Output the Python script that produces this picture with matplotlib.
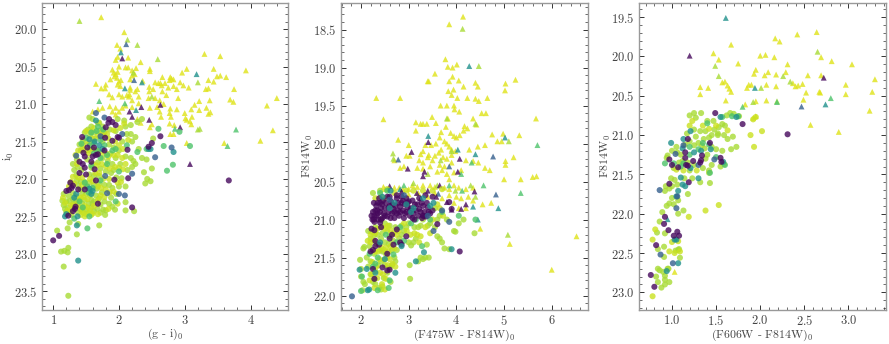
import matplotlib
matplotlib.use('Agg')
import matplotlib.pyplot as plt
import numpy as np
from matplotlib.ticker import MultipleLocator

plt.rcParams['font.family'] = ['cmr10', 'DejaVu Serif']
plt.rcParams['mathtext.fontset'] = 'cm'
plt.rcParams['axes.formatter.use_mathtext'] = True
plt.rcParams['axes.unicode_minus'] = False

# colour values on the viridis scale
shade_yellow = 0.95
shade_pale = 0.92
shade_lime = 0.87
shade_green = 0.72
shade_teal = 0.50
shade_blue = 0.30
shade_purple = 0.02

# left panel, (g - i), i
gi_tri_yellow = [(1.73,19.84),(2.08,20.04),(1.97,20.21),(2.02,20.26),(1.98,20.37),(1.95,20.41),(2.14,20.38),(2.33,20.44),
    (2.0,20.5),(2.1,20.51),(2.14,20.51),(2.2,20.55),(2.26,20.52),(2.47,20.53),(2.47,20.56),(1.90,20.54),(1.92,20.58),(1.95,20.6),
    (1.98,20.57),(1.93,20.63),(1.97,20.65),(1.87,20.67),(2.0,20.7),(2.03,20.68),(1.98,20.74),(2.02,20.76),(2.24,20.6),(2.2,20.62),
    (2.17,20.67),(1.65,20.73),(1.73,20.79),(1.8,20.74),(1.79,20.79),(2.17,20.78),(2.17,20.81),(2.16,20.87),(2.25,20.83),(2.28,20.8),
    (2.36,20.69),(2.55,20.71),(2.46,20.77),(2.46,20.83),(2.52,20.8),(2.6,20.72),(2.63,20.72),(2.66,20.64),(2.65,20.75),(2.7,20.72),
    (2.78,20.64),(2.8,20.66),(2.77,20.68),(2.83,20.67),(2.75,20.78),(2.66,20.83),(2.72,20.88),(2.93,20.71),(2.98,20.75),(2.83,20.76),
    (2.88,20.8),(3.03,20.53),(2.96,20.58),(3.06,20.78),(3.3,20.33),(3.54,20.36),(3.44,20.53),(3.49,20.63),(3.54,20.62),(3.63,20.64),
    (3.36,20.68),(3.44,20.7),(3.32,20.8),(3.36,20.79),(3.75,20.8),(3.69,20.94),(3.74,20.97),(3.93,20.55),(4.25,21.02),(4.4,20.92),
    (4.34,21.35),(4.15,21.49),(3.6,21.52),(3.03,21.52),(3.01,21.19),(3.1,21.07),(3.15,21.01),(3.22,20.96),(3.38,20.95),(3.33,21.05),
    (3.36,21.13),(3.39,21.11),(3.22,21.08),(3.11,21.17),(3.0,21.12),(2.88,21.07),(2.78,21.06),(2.77,21.12),(2.79,21.17),(2.9,20.92),
    (2.68,21.0),(2.58,21.04),(2.47,21.05),(2.62,21.1),(2.64,21.17),(2.45,20.92),(2.55,20.92),(2.62,20.95),(2.5,21.27),(2.47,21.31),
    (2.77,21.26),(2.84,21.28),(3.08,21.23),(3.03,21.21),(3.1,21.27),(2.83,21.4),(2.78,21.4),(1.85,20.87),(1.9,20.91),(2.0,20.87),
    (2.05,20.9),(2.12,20.88),(2.2,20.95),(2.15,20.9),(2.3,20.9),(2.3,20.99),(2.2,21.04),(2.1,21.02),(2.05,21.05),(1.95,21.05),
    (1.86,21.03),(1.75,21.05),(1.68,21.07),(1.6,21.1),(1.9,21.1),(2.0,21.1),(1.95,21.14),(2.28,21.2),(2.33,21.25)]
gi_tri_lime = [(1.40,19.89),(2.13,20.14),(2.28,20.21),(2.59,20.4),(2.22,20.58),(3.2,20.71),(2.5,20.9),(3.2,21.34),(3.23,21.33)]
gi_tri_green = [(3.78,21.34),(2.85,21.33),(3.65,21.56),(1.7,20.96),(2.09,20.99)]
gi_tri_teal = [(2.03,20.31),(3.18,20.6),(2.35,20.71),(2.09,20.79),(2.26,21.08)]
gi_tri_blue = [(2.11,20.2),(2.23,20.68)]
gi_tri_purple = [(2.05,20.39),(2.16,21.1),(2.2,21.17),(2.34,21.04),(2.46,21.21),(2.63,21.01),(2.93,21.31),(3.08,21.8)]

gi_dot_pale = [(1.15,22.25),(1.18,22.32),(1.22,22.42),(1.27,22.35),(1.3,22.4),(1.36,22.34),(1.4,22.38),(1.44,22.42),(1.48,22.36),
    (1.52,22.38),(1.56,22.42),(1.6,22.46),(1.5,22.47),(1.42,22.48),(1.36,22.24),(1.42,22.25),(1.46,22.24),(1.52,22.27),(1.56,22.17),
    (1.5,22.1),(1.44,22.08),(1.38,21.98),(1.44,21.98),(1.3,21.97),(1.27,22.04),(1.24,22.1),(1.32,22.06),(1.56,22.0),(1.6,22.03),
    (1.68,22.1),(1.73,22.12),(1.8,22.14),(1.86,22.18),(1.92,22.17),(2.03,22.04),(1.98,22.05),(1.85,22.0),(1.76,22.0),(1.7,21.92),
    (1.64,21.92),(1.6,21.8),(1.66,21.82),(1.74,21.8),(1.8,21.83),(1.86,21.86),(1.94,21.84),(2.0,21.85),(2.06,21.87),(2.1,21.8),
    (2.05,21.72),(1.98,21.68),(1.92,21.68),(1.84,21.7),(1.8,21.66),(1.72,21.65),(1.66,21.62),(1.6,21.6),(1.54,21.66),(1.5,21.62),
    (1.44,21.6),(1.38,21.62),(1.36,21.8),(1.34,21.68),(1.55,21.52),(1.6,21.46),(1.68,21.42),(1.76,21.42),(1.84,21.46),(1.94,21.5),
    (2.0,21.55),(2.06,21.6),(2.14,21.48),(1.5,21.36),(1.56,21.36),(1.62,21.32),(1.68,21.25),(1.74,21.36),(1.82,21.4),(1.92,21.35),
    (2.02,21.32),(2.08,21.26),(1.46,21.55),(1.72,22.22),(1.78,22.24),(1.68,22.28),(1.62,22.36),(1.84,22.4),(1.98,22.33),(1.3,22.35),
    (1.25,22.44),(1.48,22.5),(1.58,22.48),(1.68,22.47)]
gi_dot_lime = [(1.06,22.69),(1.12,22.97),(1.17,22.96),(1.22,22.98),(1.23,22.92),(1.16,23.17),(1.23,23.56),(1.22,22.66),(1.36,22.74),
    (1.25,22.58),(1.38,22.6),(1.7,22.62),(1.16,22.2),(1.14,22.29),(1.16,22.35),(1.2,22.3),(1.18,22.4),(1.22,22.38),(1.25,22.3),
    (1.24,22.23),(1.3,22.27),(1.35,22.3),(1.4,22.28),(1.44,22.33),(1.48,22.28),(1.38,22.45),(1.42,22.41),(1.46,22.45),(1.5,22.41),
    (1.54,22.45),(1.58,22.38),(1.62,22.43),(1.54,22.33),(1.58,22.28),(1.62,22.3),(1.65,22.22),(1.7,22.26),(1.74,22.18),(1.78,22.3),
    (1.8,22.42),(1.76,22.41),(1.85,22.33),(1.9,22.37),(1.94,22.41),(1.79,22.48),(1.72,22.45),(2.1,22.31),(2.1,22.42),(2.23,22.43),
    (2.0,22.1),(1.9,22.12),(1.85,22.08),(1.78,22.08),(1.7,22.06),(1.62,22.08),(1.55,22.05),(1.48,22.04),(1.42,22.04),(1.36,22.02),
    (1.5,22.2),(1.44,22.2),(1.3,22.19),(1.66,22.13),(1.96,22.2),(1.35,21.95),(1.32,21.88),(1.3,21.8),(1.36,21.74),(1.42,21.62),
    (1.4,21.54),(1.45,21.48),(1.48,21.38),(1.53,21.34),(1.58,21.3),(1.55,21.18),(1.6,21.2),(1.7,21.25),(1.75,21.3),(1.62,21.38),
    (1.7,21.36),(1.78,21.38),(1.86,21.34),(1.95,21.36),(1.98,21.2),(2.08,21.22),(2.1,21.3),(2.12,21.4),(2.05,21.5),(2.18,21.4),
    (2.2,21.5),(2.25,21.44),(2.28,21.24),(2.35,21.2),(2.18,21.28),(2.52,21.46),(2.3,21.6),(2.35,21.72),(2.42,21.74),(2.38,21.91),
    (2.4,22.06),(2.43,22.0),(2.48,22.03),(2.5,21.86),(2.25,21.8),(2.2,21.84),(2.18,21.72),(2.1,21.7),(2.0,21.62),(1.92,21.58),
    (1.87,21.66),(1.95,21.72),(2.02,21.8),(1.9,21.8),(1.83,21.76),(1.75,21.72),(1.68,21.78),(1.72,21.86),(1.8,21.9),(1.88,21.92),
    (1.96,21.98),(2.04,21.99),(2.1,22.1),(1.56,21.62),(1.52,21.74),(1.58,21.85),(1.55,21.94),(1.62,21.96),(1.7,21.96),(1.5,21.5),
    (1.56,21.42),(1.64,21.46),(1.75,21.5),(1.85,21.54),(2.13,21.88),(2.22,21.76),(1.2,22.44),(1.28,22.48),(1.32,22.33),(1.42,22.14),
    (1.56,22.22),(1.6,22.33),(1.67,22.4),(1.72,22.34),(1.88,22.25),(1.92,21.88),(1.37,21.84),(1.43,21.88),(1.38,22.09)]
gi_dot_green = [(1.52,22.66),(2.73,21.89),(2.82,21.81),(2.68,21.56),(2.28,21.64),(3.08,21.56),(2.92,21.37),(2.6,21.33),(2.42,21.6),
    (1.55,22.5),(1.62,21.52),(1.58,21.82),(1.9,21.62),(1.72,22.02),(1.5,21.45),(2.12,21.55),(1.45,22.38),(1.52,22.1),(1.68,21.3),
    (1.43,21.53),(1.82,21.68),(2.0,21.9),(1.95,22.3),(1.32,22.53),(1.58,21.38),(1.66,21.36),(1.72,21.48),(1.78,21.55),(1.68,21.62),
    (1.62,21.66),(1.72,21.72),(1.82,21.8),(1.6,22.12),(1.54,22.18),(1.48,22.05),(1.4,22.3),(1.76,21.34),(1.56,21.55),(1.95,21.6)]
gi_dot_teal = [(1.38,23.09),(1.36,22.62),(1.37,22.5),(1.18,22.5),(1.2,22.47),(1.65,21.22),(1.55,21.47),(1.63,21.5),(1.7,21.55),
    (1.75,21.6),(2.83,21.64),(2.48,21.6),(2.45,21.6),(1.35,22.2),(1.32,22.25),(1.55,22.13),(1.6,22.16),(1.58,22.2)]
gi_dot_blue = [(1.35,21.69),(1.78,21.18),(1.65,21.12),(1.82,22.19),(2.0,22.2),(2.09,22.22),(2.2,21.93),(2.8,21.58),(2.55,21.71),
    (2.05,21.4),(1.79,21.96),(1.72,21.43)]
gi_dot_purple = [(1.0,22.82),(1.09,22.76),(1.26,22.05),(1.24,22.15),(1.2,22.16),(1.28,22.12),(1.3,22.09),(1.38,22.14),(1.48,22.14),
    (1.34,22.37),(1.33,22.4),(1.3,22.43),(1.23,22.49),(1.68,22.33),(2.2,22.38),(1.46,21.65),(1.48,21.7),(1.4,21.77),(1.45,21.8),
    (1.48,21.85),(1.5,21.94),(1.4,21.92),(1.52,21.58),(1.62,21.58),(1.44,21.44),(1.58,21.77),(1.6,21.7),(1.65,21.68),(1.68,21.67),
    (1.63,21.87),(1.65,22.02),(1.79,21.45),(1.85,21.2),(1.84,21.25),(1.9,21.24),(1.95,21.28),(1.8,21.31),(1.9,21.49),(2.0,21.45),
    (1.98,21.44),(1.78,21.62),(1.93,22.01),(2.14,21.99),(2.13,21.61),(2.45,21.57),(2.5,21.52),(2.63,21.43),(3.67,22.02)]

# middle panel, (F475W - F814W), F814W
f475_tri_yellow = [(4.14,18.33),(3.85,18.43),(3.77,18.89),(3.82,18.99),(3.92,19.0),(4.01,18.96),(2.32,19.4),(2.82,19.4),(3.55,19.08),
    (3.4,19.18),(3.42,19.18),(3.92,19.12),(3.85,19.18),(4.05,19.17),(4.15,19.25),(3.94,19.29),(3.83,19.31),(3.9,19.36),(4.02,19.4),
    (4.23,19.4),(4.4,19.41),(4.47,19.44),(4.65,19.4),(4.4,19.2),(4.45,19.25),(5.03,19.21),(5.02,19.3),(5.24,19.16),(2.47,19.68),
    (3.67,19.5),(3.8,19.5),(3.95,19.5),(3.96,19.55),(4.06,19.58),(3.82,19.67),(3.49,19.65),(4.35,19.67),(4.53,19.6),(4.62,19.6),
    (5.67,19.67),(3.15,19.72),(3.25,19.74),(3.3,19.74),(3.38,19.74),(3.57,19.73),(3.78,19.78),(4.17,19.77),(4.23,19.8),(4.42,19.75),
    (3.15,19.83),(3.68,19.85),(3.65,19.92),(3.88,19.86),(3.95,19.9),(4.0,19.92),(4.07,19.89),(4.15,19.83),(4.75,19.88),(4.98,19.87),
    (4.6,20.02),(4.86,19.97),(4.95,19.97),(5.32,19.89),(2.78,19.95),(3.0,20.02),(3.35,20.02),(3.47,20.02),(3.57,20.0),(3.75,19.97),
    (3.8,20.0),(3.85,20.04),(3.9,20.08),(3.68,20.08),(3.3,20.1),(3.42,20.15),(3.25,20.14),(4.27,20.08),(4.45,20.04),(5.2,20.18),
    (3.55,20.16),(3.63,20.12),(3.72,20.18),(3.8,20.2),(3.9,20.15),(3.98,20.1),(3.22,20.22),(3.3,20.25),(3.4,20.18),(3.5,20.22),
    (3.65,20.28),(3.75,20.3),(3.9,20.25),(2.7,20.22),(2.82,20.32),(2.95,20.16),(3.02,20.16),(2.9,20.3),(3.18,20.32),(3.3,20.33),
    (3.45,20.3),(3.6,20.37),(3.7,20.35),(3.8,20.4),(3.85,20.47),(3.95,20.38),(4.1,20.35),(4.2,20.22),(4.35,20.23),(4.46,20.25),
    (4.6,20.32),(4.7,20.35),(5.03,20.23),(5.03,20.28),(5.0,20.47),(5.35,20.47),(5.6,20.44),(5.68,20.43),(2.47,20.57),(2.5,20.6),
    (2.7,20.58),(2.8,20.58),(2.88,20.6),(3.0,20.6),(3.08,20.55),(3.18,20.57),(3.3,20.55),(3.45,20.55),(3.55,20.57),(3.75,20.58),
    (3.85,20.6),(3.95,20.55),(4.05,20.58),(4.2,20.6),(4.35,20.58),(4.25,20.7),(4.1,20.72),(4.0,20.7),(3.95,20.78),(4.05,20.85),
    (4.2,20.85),(4.35,20.75),(3.85,20.68),(3.7,20.72),(3.55,20.65),(3.4,20.7),(3.2,20.65),(3.0,20.67),(4.55,20.8),(4.73,20.78),
    (4.5,21.12),(6.52,21.22),(6.0,21.66),(5.12,21.32)]
f475_tri_lime = [(4.13,18.49),(4.47,18.98),(3.8,19.67),(4.4,19.74),(5.1,19.97),(2.67,20.13),(3.9,20.1),(3.67,20.22),(5.08,21.2),
    (3.4,20.4),(3.1,20.52),(3.6,20.55),(4.3,20.55),(3.98,20.62),(4.4,20.7),(2.68,20.2)]
f475_tri_green = [(5.7,20.02),(5.35,20.65),(4.57,20.55),(2.9,20.55),(4.12,20.62),(3.85,20.55),(4.32,20.25),(4.1,20.4)]
f475_tri_teal = [(4.27,18.98),(3.41,19.9),(5.02,19.92),(4.03,20.08),(4.4,20.14),(4.88,20.85),(4.45,21.0),(4.35,20.83),(2.82,20.6)]
f475_tri_blue = [(4.77,20.17),(2.78,20.21),(3.85,20.3),(4.83,20.67),(3.62,20.66)]
f475_tri_purple = [(3.06,20.11),(3.41,19.98),(4.07,20.2),(2.98,20.33),(4.03,20.37),(3.3,20.43),(3.33,20.37),(2.6,20.56),(2.85,20.63),
    (3.17,20.65),(3.25,20.72),(3.58,20.7),(3.65,20.55),(3.4,20.62),(4.38,20.63),(3.8,20.77),(4.2,20.8),(4.1,20.86),(3.9,20.87)]

f475_dot_pale = [(2.14,21.28),(2.2,21.3),(2.26,21.27),(2.3,21.42),(2.36,21.42),(2.42,21.36),(2.48,21.4),(2.52,21.37),(2.58,21.42),
    (2.62,21.35),(2.7,21.38),(2.48,21.53),(2.38,21.52),(2.32,21.62),(2.4,21.7),(2.46,21.72),(2.52,21.78),(2.34,21.77),(2.22,21.72),
    (2.18,21.8),(2.28,21.9),(2.44,21.85),(2.5,21.92),(2.56,21.6),(2.6,21.52),(2.66,21.58),(2.72,21.62),(2.24,21.56),(2.44,21.1),
    (2.5,21.12),(2.56,21.08),(2.62,21.14),(2.68,21.18),(2.74,21.2),(2.78,21.15),(2.9,21.05),(2.96,21.15),(3.04,21.2),(3.12,21.18),
    (3.18,21.2),(3.22,21.3),(3.25,21.22),(2.35,21.12),(2.3,21.18),(2.2,21.2),(2.55,20.6),(2.7,20.65),(2.95,20.62),(3.1,20.62),
    (3.3,20.62),(3.5,20.62),(3.7,20.6),(2.42,20.7),(2.3,20.72),(3.6,20.8),(3.65,20.85),(3.72,20.95),(3.5,21.0),(3.35,21.1),(3.45,21.18)]
f475_dot_lime = [(1.98,21.53),(2.05,21.38),(2.07,21.36),(2.0,21.65),(2.0,21.75),(2.05,21.82),(2.08,21.85),(2.03,21.93),(2.2,21.72),
    (2.25,21.82),(2.3,21.85),(2.38,21.9),(2.42,21.92),(2.45,21.88),(2.3,21.68),(2.36,21.6),(2.42,21.55),(2.5,21.6),(2.55,21.7),
    (2.6,21.63),(2.62,21.82),(2.4,21.4),(2.33,21.32),(2.28,21.2),(2.22,21.16),(2.15,21.15),(2.2,21.25),(2.18,21.35),(2.28,21.45),
    (2.42,21.25),(2.45,21.18),(2.5,21.3),(2.55,21.15),(2.6,21.22),(2.65,21.4),(2.7,21.5),(2.72,21.55),(2.75,21.4),(2.8,21.25),
    (2.85,21.2),(2.9,21.15),(2.95,21.1),(3.0,21.3),(3.05,21.34),(3.1,21.3),(3.15,21.25),(3.12,21.1),(3.2,21.1),(3.25,21.08),
    (3.3,21.52),(3.35,21.5),(3.42,21.5),(3.38,21.33),(3.25,21.5),(3.02,21.6),(3.03,21.78),(3.2,21.55),(3.55,21.1),(3.6,21.0),
    (3.55,20.85),(3.6,21.22),(3.65,21.25),(3.7,21.3),(3.75,21.38),(3.85,21.39),(3.95,21.15),(3.98,21.16),(3.65,20.95),(3.8,21.0),
    (4.15,21.0),(4.05,21.05),(4.38,21.18),(3.3,21.0),(3.4,21.08),(3.45,21.05),(2.5,21.05),(2.6,21.08),(2.72,21.1),(2.85,21.08),
    (3.0,21.05),(2.45,21.42),(2.55,21.5),(2.65,21.6),(2.35,21.2),(2.3,21.1),(2.42,21.0),(2.25,20.65),(2.4,20.62),(2.5,20.72),
    (2.2,21.55),(2.12,21.5),(2.15,21.62),(2.28,21.78),(2.48,21.77),(2.52,21.45),(2.58,21.32),(2.68,21.28)]
f475_dot_green = [(2.02,21.75),(2.25,21.62),(2.3,21.58),(2.58,21.9),(2.6,21.8),(2.68,21.46),(2.75,21.3),(2.82,21.1),(3.15,21.0),
    (3.28,21.35),(2.9,21.28),(3.05,21.05),(2.4,20.65),(2.55,20.62),(2.52,21.2),(2.35,21.5),(4.4,21.0),(4.05,20.95),(3.7,20.9),
    (2.0,21.94),(2.35,21.93),(2.18,21.45),(3.45,21.0)]
f475_dot_teal = [(1.97,21.66),(2.12,21.65),(2.14,21.93),(2.17,21.92),(2.3,21.7),(2.72,21.7),(3.15,21.55),(3.32,21.43),(3.9,21.39),
    (2.5,21.52),(2.85,21.35),(2.45,20.7),(2.7,20.78),(2.6,20.85),(2.95,20.8),(3.1,20.85),(3.3,20.72),(3.52,20.78),(2.62,20.62),
    (2.4,21.3),(3.05,20.9),(3.45,20.82)]
f475_dot_blue = [(1.81,22.01),(3.52,21.15),(3.85,21.03),(3.7,20.88),(2.9,20.68),(2.6,20.74),(3.4,20.95)]
f475_dot_purple = [(2.25,20.9),(2.22,20.95),(2.24,21.0),(2.28,21.03),(2.3,20.88),(2.32,20.82),(2.35,20.78),(2.38,20.72),(2.33,20.95),
    (2.36,21.0),(2.4,20.9),(2.42,20.85),(2.4,21.04),(2.45,20.98),(2.48,20.92),(2.5,20.85),(2.52,20.78),(2.46,20.75),(2.55,20.96),
    (2.58,20.9),(2.6,20.82),(2.63,20.76),(2.65,20.92),(2.68,20.86),(2.7,20.98),(2.72,20.82),(2.75,20.72),(2.78,20.88),(2.8,20.95),
    (2.82,20.83),(2.85,20.7),(2.88,20.88),(2.9,20.98),(2.92,20.8),(2.95,20.9),(2.98,20.84),(3.0,20.76),(3.02,20.95),(3.05,20.85),
    (3.08,20.75),(3.1,20.92),(3.12,21.0),(3.15,20.88),(3.18,20.8),(3.2,20.95),(3.22,20.72),(3.25,20.9),(3.28,20.98),(3.3,20.82),
    (3.33,20.9),(3.36,20.96),(3.38,20.78),(3.42,20.9),(3.45,20.92),(3.5,20.88),(2.85,20.78),(2.55,20.7),(2.75,20.92),(3.35,20.68),
    (2.22,21.12),(2.28,21.14),(2.3,21.28),(2.25,21.4),(2.2,21.42),(2.3,21.35),(2.38,21.33),(2.42,21.1),(2.6,21.25),(2.65,21.2),
    (2.55,21.45),(2.85,21.33),(2.82,21.3),(2.68,21.33),(2.75,21.13),(2.95,21.22),(2.25,21.65),(2.28,21.78),(2.55,21.67),(2.6,21.66),
    (2.45,21.63),(4.07,21.42),(3.6,21.06),(3.3,20.95),(3.9,20.86),(3.5,20.7),(3.85,20.77),(2.28,20.95),(2.34,20.88),(2.44,20.8),
    (2.5,20.95),(2.58,20.84),(2.62,20.98),(2.66,20.8),(2.7,20.9),(2.78,20.78),(2.82,20.9),(2.88,20.75),(2.92,20.92),(2.98,20.78),
    (3.03,20.88),(3.08,20.98),(3.13,20.8),(3.22,20.86),(3.27,20.78),(3.32,20.95),(3.4,20.84),(2.27,21.0),(2.35,20.92),(2.42,21.0),
    (2.27,20.78),(2.4,20.78),(2.6,20.7),(2.75,20.68),(2.95,20.72)]

# right panel, (F606W - F814W), F814W
f606_tri_yellow = [(2.17,19.77),(2.22,19.81),(2.42,19.72),(2.64,19.69),(1.67,19.85),(1.47,19.96),(2.0,19.99),(2.06,19.98),(2.16,20.01),
    (1.53,20.04),(1.75,20.09),(2.31,20.1),(2.69,20.01),(2.81,20.06),(3.04,20.1),(1.95,20.17),(1.93,20.22),(2.09,20.2),(2.05,20.24),
    (2.18,20.23),(2.29,20.2),(2.54,20.24),(2.69,20.24),(3.3,20.29),(1.57,20.33),(1.6,20.32),(1.32,20.39),(1.41,20.4),(1.63,20.37),
    (1.65,20.41),(1.67,20.45),(1.32,20.48),(1.85,20.4),(1.87,20.36),(1.9,20.36),(2.07,20.36),(2.18,20.38),(2.37,20.34),(2.4,20.38),
    (2.43,20.37),(2.48,20.35),(2.97,20.36),(2.52,20.46),(2.67,20.45),(2.68,20.46),(3.27,20.45),(2.97,20.48),(1.61,20.56),(1.95,20.57),
    (2.07,20.56),(2.49,20.55),(3.24,20.69),(1.83,20.61),(1.92,20.78),(1.95,20.76),(2.57,20.87),(2.89,20.96),(1.03,22.74)]
f606_tri_lime = [(1.49,20.12),(2.65,19.94),(1.92,20.58),(2.19,20.57),(2.26,20.25),(2.01,20.4),(1.53,20.25),(2.34,20.32)]
f606_tri_green = [(1.8,20.64),(2.8,20.53),(2.19,20.58)]
f606_tri_teal = [(1.61,19.51),(1.94,20.4),(2.74,20.61),(0.95,22.07)]
f606_tri_blue = [(2.46,20.63)]
f606_tri_purple = [(1.2,19.99),(2.72,20.27)]

f606_dot_pale = [(0.78,23.05),(0.78,22.33),(0.81,22.2),(1.03,22.5),(0.97,22.48),(1.0,22.36),(1.07,22.35),(1.09,22.48),(1.19,22.04),
    (1.53,21.89),(1.38,21.96),(1.93,21.15),(1.89,21.0),(2.02,20.95),(1.95,20.77),(1.92,20.8),(1.2,20.88),(1.23,20.82),(1.35,20.88),
    (1.42,20.92),(1.5,20.88),(1.63,20.94),(1.05,21.44),(1.13,21.45),(1.28,21.45)]
f606_dot_lime = [(1.2,20.75),(1.25,20.72),(1.33,20.72),(1.27,20.78),(1.25,20.93),(1.17,20.98),(1.27,21.02),
    (1.4,20.82),(1.47,20.82),(1.32,20.95),(1.38,20.95),(1.48,20.93),(1.53,20.9),
    (1.57,20.86),(1.6,20.88),(1.62,20.75),(1.66,20.72),(1.7,20.73),(1.76,20.76),(1.69,21.02),(1.63,21.05),(1.59,21.0),
    (1.52,21.0),(1.45,21.0),(1.42,21.03),(1.36,21.05),(1.3,21.1),(1.34,21.13),(1.25,21.13),(1.2,21.08),(1.15,21.12),(1.05,21.15),
    (1.06,21.22),(1.1,21.25),(1.0,21.2),(0.95,21.26),(0.94,21.29),(1.45,21.15),(1.5,21.18),(1.57,21.2),(1.67,21.18),(1.73,21.15),
    (1.4,21.25),(1.38,21.3),(1.45,21.38),(1.55,21.4),(1.59,21.37),(1.42,21.45),(1.42,21.48),(1.35,21.42),(1.25,21.38),(1.2,21.45),
    (1.02,21.42),(1.08,21.35),(0.99,21.55),(1.03,21.57),(1.14,21.55),(1.23,21.55),(1.32,21.6),
    (1.43,21.61),(0.93,21.65),(0.97,21.68),(0.92,21.71),(1.0,21.65),(1.06,21.63),(0.97,21.87),(1.02,21.88),(1.0,21.8),(1.07,21.83),
    (1.18,21.75),(1.13,21.96),(0.89,21.98),(0.94,21.9),(1.07,22.0),(0.86,22.1),(0.92,22.25),
    (0.83,22.24),(0.84,22.45),(0.91,22.42),(0.91,22.55),(1.04,22.47),
    (1.07,22.46),(1.08,22.45),(1.09,22.56),(0.84,22.7),(0.86,22.72),(0.9,22.74),(0.95,22.7),(0.96,22.7),(0.92,22.79),
    (0.92,22.84),(0.82,22.8),(0.84,22.87),(0.88,22.94),(0.92,22.9),(0.97,22.87),(1.52,20.98),(1.37,21.17),(1.18,21.35),(1.12,21.33)]
f606_dot_green = [(1.42,21.12),(1.57,20.77),(1.68,20.76),(1.75,20.76),(1.43,21.48),(1.3,21.18),(1.35,21.1),(1.6,21.38),(1.2,21.25),
    (1.1,21.4),(1.02,21.36),(0.92,21.36),(1.13,21.36),(1.4,20.85),(1.5,21.28),(1.2,21.15)]
f606_dot_teal = [(0.99,21.1),(1.12,21.17),(1.21,20.95),(1.13,21.05),(1.25,21.22),(1.33,21.2),(1.21,21.42),(1.1,21.54),(1.12,21.63),
    (1.15,21.65),(1.3,21.55),(1.05,22.33),(1.03,22.33),(1.05,21.78),(0.94,22.73),(1.55,20.77),(1.73,20.77),(1.44,21.18),(1.58,21.34),
    (1.07,21.71),(1.07,22.63)]
f606_dot_blue = [(1.13,21.13),(1.04,21.24),(1.48,21.31),(0.86,21.7),(1.05,21.93),(0.87,22.52),(1.01,22.63),(1.06,21.78),(1.3,21.38)]
f606_dot_purple = [(1.49,20.72),(1.8,20.86),(2.31,20.99),(1.43,21.1),(1.15,21.22),(1.34,21.26),(1.33,21.32),(1.32,21.35),(1.55,21.29),
    (1.56,21.34),(1.24,21.33),(1.15,21.29),(1.16,21.38),(1.18,21.39),(1.07,21.41),(1.0,21.38),(0.97,21.31),(0.97,21.62),(0.92,22.04),
    (0.91,22.13),(0.96,22.21),(1.06,22.23),(1.02,22.28),(1.08,22.28),(0.82,22.4),(0.76,22.78),(0.8,22.93),(1.18,21.05),(1.19,21.6)]


def draw_group(ax, points, shade, marker):
    pts = np.array(points)
    ax.scatter(pts[:, 0], pts[:, 1], c=[shade] * len(pts), cmap='viridis', vmin=0, vmax=1,
               marker=marker, s=19 if marker == 'o' else 18, alpha=0.8, linewidths=0)


def style_axes(ax, xlim, ylim, xmajor, xminor, xlabel, ylabel, ypad):
    ax.set_xlim(xlim)
    ax.set_ylim(ylim)
    ax.xaxis.set_major_locator(MultipleLocator(xmajor))
    ax.xaxis.set_minor_locator(MultipleLocator(xminor))
    ax.yaxis.set_major_locator(MultipleLocator(0.5))
    ax.yaxis.set_minor_locator(MultipleLocator(0.1))
    ax.tick_params(which='both', direction='in', top=True, right=True, color='#333333', labelcolor='#444444', labelsize=9, pad=3)
    ax.tick_params(which='major', length=3.5, width=0.7)
    ax.tick_params(which='minor', length=2, width=0.5)
    for s in ax.spines.values():
        s.set_color('#999999')
        s.set_linewidth(1.0)
    ax.set_xlabel(xlabel, fontsize=8.5, color='#444444', labelpad=0)
    ax.set_ylabel(ylabel, fontsize=8.5, color='#444444', labelpad=ypad)


fig = plt.figure(figsize=(8.89, 3.44), dpi=100)
ax1 = fig.add_axes([42 / 889, 1 - 310 / 344, 246 / 889, 307 / 344])
ax2 = fig.add_axes([341 / 889, 1 - 310 / 344, 246.5 / 889, 307 / 344])
ax3 = fig.add_axes([639 / 889, 1 - 310 / 344, 246.5 / 889, 307 / 344])

tri_shades = [shade_yellow, shade_lime, shade_green, shade_teal, shade_blue, shade_purple]
dot_shades = [shade_lime, shade_pale, shade_green, shade_teal, shade_blue, shade_purple]
# middle panel has its teal dots over the purple clump
dot_shades_mid = [shade_lime, shade_pale, shade_green, shade_purple, shade_blue, shade_teal]

panels = [
    (ax1, [gi_tri_yellow, gi_tri_lime, gi_tri_green, gi_tri_teal, gi_tri_blue, gi_tri_purple],
     [gi_dot_lime, gi_dot_pale, gi_dot_green, gi_dot_teal, gi_dot_blue, gi_dot_purple], dot_shades),
    (ax2, [f475_tri_yellow, f475_tri_lime, f475_tri_green, f475_tri_teal, f475_tri_blue, f475_tri_purple],
     [f475_dot_lime, f475_dot_pale, f475_dot_green, f475_dot_purple, f475_dot_blue, f475_dot_teal], dot_shades_mid),
    (ax3, [f606_tri_yellow, f606_tri_lime, f606_tri_green, f606_tri_teal, f606_tri_blue, f606_tri_purple],
     [f606_dot_lime, f606_dot_pale, f606_dot_green, f606_dot_teal, f606_dot_blue, f606_dot_purple], dot_shades),
]
for ax, tris, dots, shades in panels:
    for pts, shade in zip(tris, tri_shades):
        draw_group(ax, pts, shade, '^')
    for pts, shade in zip(dots, shades):
        draw_group(ax, pts, shade, 'o')

style_axes(ax1, (0.83, 4.57), (23.75, 19.65), 1, 0.2, r'(g - i)$_0$', r'i$_0$', -1)
style_axes(ax2, (1.58, 6.75), (22.19, 18.15), 1, 0.2, r'(F475W - F814W)$_0$', r'F814W$_0$', -1)
style_axes(ax3, (0.626, 3.42), (23.225, 19.32), 0.5, 0.1, r'(F606W - F814W)$_0$', r'F814W$_0$', -1)

fig.savefig('out.png', dpi=100)
